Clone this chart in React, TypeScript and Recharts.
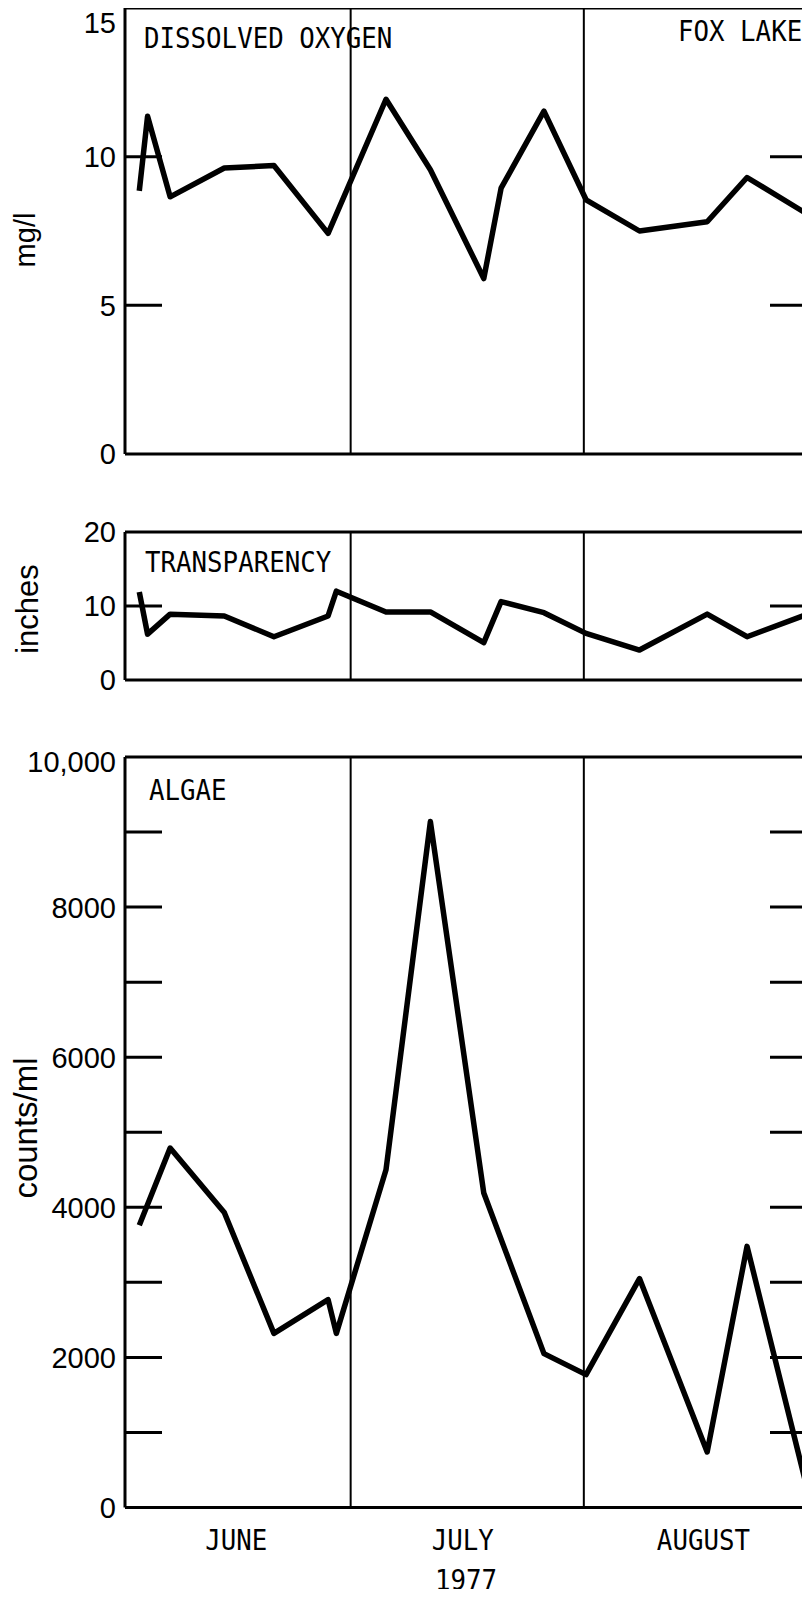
import React from "react";
import { LineChart, Line, XAxis, YAxis, ReferenceLine } from "recharts";

// sampling days, counted from June 1 (= 0)
const sampleDays = [1.9, 3.0, 6.0, 13.2, 19.8, 27.0, 28.1, 34.7, 40.6, 47.7, 50.0, 55.7, 61.3, 68.4, 77.4, 82.7, 90.5];

// mg/l
const oxygen = [8.85, 11.36, 8.65, 9.62, 9.7, 7.42, null, 11.93, 9.56, 5.9, 8.94, 11.53, 8.55, 7.5, 7.81, 9.3, 8.1];
// inches
const transparency = [11.9, 6.2, 8.9, 8.65, 5.85, 8.65, 12.0, 9.2, 9.2, 5.05, 10.6, 9.1, 6.3, 4.05, 8.9, 5.85, 8.8];
// counts/ml
const algae = [3760, null, 4790, 3930, 2320, 2770, 2320, 4500, 9140, 4190, null, 2050, 1770, 3050, 740, 3480, 330];

const monthStarts = [30, 61];
const monthTicks = [14.8, 44.9, 76.9];
const monthLabels = ["JUNE", "JULY", "AUGUST"];

const oxygenTicks = [0, 5, 10, 15];
const transparencyTicks = [0, 10, 20];
const algaeTicks = [0, 1000, 2000, 3000, 4000, 5000, 6000, 7000, 8000, 9000, 10000];
const algaeTickLabels = ["0", "", "2000", "", "4000", "", "6000", "", "8000", "", "10,000"];

const toRows = (vals: (number | null)[]) => sampleDays.map((day, i) => ({ day, v: vals[i] }));

const oxygenData = toRows(oxygen);
const transparencyData = toRows(transparency);
const algaeData = toRows(algae);

const NUM_FONT = "'Liberation Sans', Arial, sans-serif";
const MONO_FONT = "'DejaVu Sans Mono', monospace";
const PLOT_LEFT = 125;
const PLOT_RIGHT = 817;
const CHART_W = 830;
const X_DOMAIN: [number, number] = [0, 92];

function yTick(ticks: number[], labels: string[] | null, topShift: number) {
  const max = ticks[ticks.length - 1];
  return (props: any) => {
    const { y, payload } = props;
    const v = payload.value;
    const idx = ticks.indexOf(v);
    const label = labels ? labels[idx] : String(v);
    const inner = v > ticks[0] && v < max;
    const ly = v === max ? y + topShift : y;
    return (
      <g>
        {inner && <line x1={PLOT_LEFT} x2={PLOT_LEFT + 37} y1={y} y2={y} stroke="#000" strokeWidth={3} />}
        {inner && <line x1={770} x2={PLOT_RIGHT} y1={y} y2={y} stroke="#000" strokeWidth={3} />}
        {label && (
          <text x={116} y={ly} dy="0.36em" textAnchor="end" fontFamily={NUM_FONT} fontSize={29} fill="#000">
            {label}
          </text>
        )}
      </g>
    );
  };
}

const MonthTick = (props: any) => {
  const { x, y, payload } = props;
  const idx = monthTicks.indexOf(payload.value);
  return (
    <text
      transform={`translate(${x},${y + 42}) scale(1,1.12)`}
      textAnchor="middle"
      fontFamily={MONO_FONT}
      fontSize={25.8}
      fill="#000"
    >
      {monthLabels[idx]}
    </text>
  );
};

const Mono = ({ x, y, children, anchor = "start" }: any) => (
  <text
    transform={`translate(${x},${y}) scale(1,1.12)`}
    textAnchor={anchor}
    fontFamily={MONO_FONT}
    fontSize={25.8}
    fill="#000"
  >
    {children}
  </text>
);

const VTitle = ({ x, y, size, children }: any) => (
  <text
    transform={`translate(${x},${y}) rotate(-90)`}
    textAnchor="middle"
    fontFamily={NUM_FONT}
    fontSize={size}
    fill="#000"
  >
    {children}
  </text>
);

function Panel({ top, height, margin, data, ticks, labels, topShift, bottom }: any) {
  const max = ticks[ticks.length - 1];
  return (
    <div style={{ position: "absolute", left: 0, top }}>
      <LineChart width={CHART_W} height={height} data={data} margin={margin}>
        <XAxis
          type="number"
          dataKey="day"
          domain={X_DOMAIN}
          ticks={bottom ? monthTicks : []}
          interval={0}
          tick={bottom ? MonthTick : false}
          tickLine={false}
          tickSize={0}
          tickMargin={0}
          height={bottom ? 60 : 0}
          axisLine={{ stroke: "#000", strokeWidth: 3 }}
        />
        <YAxis
          type="number"
          domain={[0, max]}
          ticks={ticks}
          interval={0}
          width={60}
          tick={yTick(ticks, labels, topShift)}
          tickLine={false}
          axisLine={{ stroke: "#000", strokeWidth: 3 }}
        />
        <ReferenceLine y={max} stroke="#000" strokeWidth={3} />
        <ReferenceLine y={0} stroke="#000" strokeWidth={3} />
        {monthStarts.map((d) => (
          <ReferenceLine key={d} x={d} stroke="#000" strokeWidth={2} />
        ))}
        <Line
          type="linear"
          dataKey="v"
          stroke="#000"
          strokeWidth={5.5}
          strokeLinejoin="round"
          dot={false}
          activeDot={false}
          connectNulls
          isAnimationActive={false}
        />
      </LineChart>
    </div>
  );
}

export default function App() {
  return (
    <div
      style={{
        position: "relative",
        width: 810,
        height: 1597,
        margin: -8,
        overflow: "hidden",
        background: "#fff",
      }}
    >
      <Panel
        top={0}
        height={470}
        margin={{ top: 8, right: 13, bottom: 16, left: 65 }}
        data={oxygenData}
        ticks={oxygenTicks}
        labels={null}
        topShift={15}
      />
      <Panel
        top={500}
        height={200}
        margin={{ top: 32, right: 13, bottom: 20, left: 65 }}
        data={transparencyData}
        ticks={transparencyTicks}
        labels={null}
        topShift={0}
      />
      <Panel
        top={740}
        height={857}
        margin={{ top: 17, right: 13, bottom: 29.5, left: 65 }}
        data={algaeData}
        ticks={algaeTicks}
        labels={algaeTickLabels}
        topShift={5}
        bottom
      />
      <svg
        width={810}
        height={1597}
        style={{ position: "absolute", left: 0, top: 0, pointerEvents: "none" }}
      >
        <Mono x={144} y={48}>DISSOLVED OXYGEN</Mono>
        <Mono x={678} y={41}>FOX LAKE</Mono>
        <Mono x={145} y={572}>TRANSPARENCY</Mono>
        <Mono x={149} y={800}>ALGAE</Mono>
        <Mono x={466} y={1590} anchor="middle">1977</Mono>
        <VTitle x={35} y={240} size={29}>mg/l</VTitle>
        <VTitle x={38} y={609} size={31}>inches</VTitle>
        <VTitle x={37} y={1128} size={33}>counts/ml</VTitle>
      </svg>
    </div>
  );
}
